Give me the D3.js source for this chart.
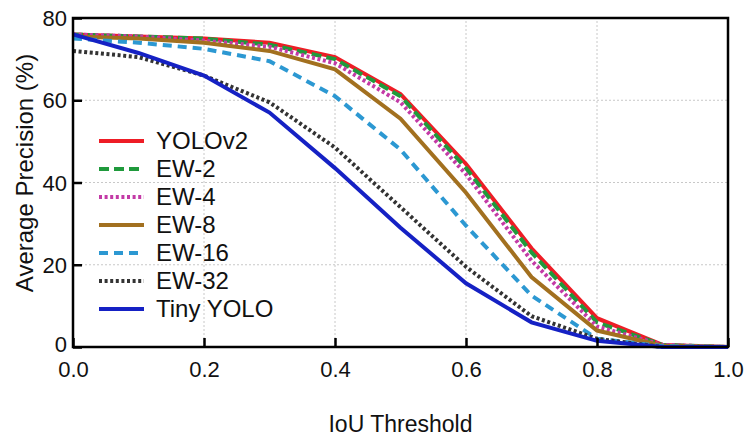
<!DOCTYPE html>
<html>
<head>
    <title></title>
    <meta charset="utf-8">
    <style>
        body { margin: 0; background: #fff; }
        text { font-family: 'Liberation Sans', Arial, Helvetica, sans-serif; fill: #111; }
    </style>
</head>
<body>
<script src="https://cdn.jsdelivr.net/npm/d3@7"></script>
<script>
    // IoU thresholds on the x axis
    var thresholds = [0, 0.1, 0.2, 0.3, 0.4, 0.5, 0.6, 0.7, 0.8, 0.9, 1.0];
    var xTicks = [0, 0.2, 0.4, 0.6, 0.8, 1.0];
    var yTicks = [0, 20, 40, 60, 80];

    var names = ['YOLOv2', 'EW-2', 'EW-4', 'EW-8', 'EW-16', 'EW-32', 'Tiny YOLO'];
    var yolov2   = [76, 75.5, 75, 74, 70.5, 61.5, 44.5, 24, 7, 0.5, 0];
    var ew2      = [76, 75.5, 75, 73.5, 70, 61, 43.5, 23, 6, 0.5, 0];
    var ew4      = [76, 75.5, 74.5, 73, 69, 59.5, 42, 21, 5, 0.5, 0];
    var ew8      = [75.5, 75, 74, 72, 67.5, 55.5, 37.5, 17, 4, 0.3, 0];
    var ew16     = [75, 74, 72.5, 69.5, 61, 48, 29.5, 12.5, 2, 0.2, 0];
    var ew32     = [72, 70.5, 66, 59.5, 48.5, 34, 19.5, 7.5, 2, 0, 0];
    var tinyYolo = [76, 71.5, 66, 57, 43.5, 29, 15.5, 6, 1.5, 0, 0];
    var values = [yolov2, ew2, ew4, ew8, ew16, ew32, tinyYolo];

    var styles = [
        {color: '#ee1d26', dash: null},
        {color: '#1f9a3c', dash: '10,5'},
        {color: '#c33aa6', dash: '3,2.6'},
        {color: '#a2701f', dash: null},
        {color: '#2c98d2', dash: '9,6'},
        {color: '#333333', dash: '3,2.6'},
        {color: '#1521c4', dash: null}
    ];

    var W = 748, H = 437;
    var m = {left: 73, right: 20, top: 18, bottom: 90};

    var svg = d3.select('body').append('svg')
        .attr('width', W)
        .attr('height', H)

    var x = d3.scaleLinear().domain([0, 1]).range([m.left, W - m.right]);
    var y = d3.scaleLinear().domain([0, 80]).range([H - m.bottom, m.top]);

    // grid
    svg.append('g').selectAll('line').data(xTicks.slice(1, -1)).enter()
        .append('line')
        .attr('x1', function(d){ return x(d); })
        .attr('x2', function(d){ return x(d); })
        .attr('y1', y(0)).attr('y2', y(80))
        .style('stroke', '#c8c8c8').style('stroke-width', 1).style('stroke-dasharray', '2,2');
    svg.append('g').selectAll('line').data(yTicks.slice(1, -1)).enter()
        .append('line')
        .attr('y1', function(d){ return y(d); })
        .attr('y2', function(d){ return y(d); })
        .attr('x1', x(0)).attr('x2', x(1))
        .style('stroke', '#c8c8c8').style('stroke-width', 1).style('stroke-dasharray', '2,2');

    // curves
    var line = d3.line()
        .x(function(d, i){ return x(thresholds[i]); })
        .y(function(d){ return y(d); });

    svg.append('g').selectAll('path').data(values).enter()
        .append('path')
        .attr('d', line)
        .style('fill', 'none')
        .style('stroke', function(d, i){ return styles[i].color; })
        .style('stroke-width', 4)
        .style('stroke-dasharray', function(d, i){ return styles[i].dash; });

    // axes, ticks inward
    var xAxis = d3.axisBottom(x).tickValues(xTicks).tickSize(-9).tickPadding(13)
        .tickFormat(d3.format('.1f'));
    var yAxis = d3.axisLeft(y).tickValues(yTicks).tickSize(-9).tickPadding(8);

    var gx = svg.append('g').attr('transform', 'translate(0,' + y(0) + ')').call(xAxis);
    var gy = svg.append('g').attr('transform', 'translate(' + x(0) + ',0)').call(yAxis);
    [gx, gy].forEach(function(g){
        g.select('.domain').remove();
        g.selectAll('line').style('stroke', '#000').style('stroke-width', 2.5);
        g.selectAll('text').style('font-size', '22px').style('fill', '#111');
    });
    gy.selectAll('text').attr('dy', '0.35em').attr('x', -6);
    // lift the "0" a little so it clears the "0.0" below it
    gy.selectAll('text').filter(function(d){ return d === 0; }).attr('y', -3);
    gx.selectAll('text').attr('dy', '0.72em').attr('y', 14);

    // frame
    svg.append('rect')
        .attr('x', x(0)).attr('y', y(80))
        .attr('width', x(1) - x(0)).attr('height', y(0) - y(80))
        .style('fill', 'none').style('stroke', '#000').style('stroke-width', 2.5);

    // titles
    svg.append('text')
        .attr('x', (x(0) + x(1)) / 2).attr('y', 432)
        .attr('text-anchor', 'middle')
        .style('font-size', '23px')
        .text('IoU Threshold');
    svg.append('text')
        .attr('transform', 'translate(33,' + 173 + ') rotate(-90)')
        .attr('text-anchor', 'middle')
        .style('font-size', '24px')
        .text('Average Precision (%)');

    // legend
    var legend = svg.append('g').selectAll('g').data(names).enter()
        .append('g')
        .attr('transform', function(d, i){ return 'translate(99,' + (141 + i * 28) + ')'; });
    legend.append('line')
        .attr('x1', 0).attr('x2', 45).attr('y1', 0).attr('y2', 0)
        .style('stroke', function(d, i){ return styles[i].color; })
        .style('stroke-width', 4)
        .style('stroke-dasharray', function(d, i){ return styles[i].dash; });
    legend.append('text')
        .attr('x', 57).attr('y', 0).attr('dy', '0.35em')
        .style('font-size', '24px')
        .text(function(d){ return d; });
</script>
</body>
</html>
